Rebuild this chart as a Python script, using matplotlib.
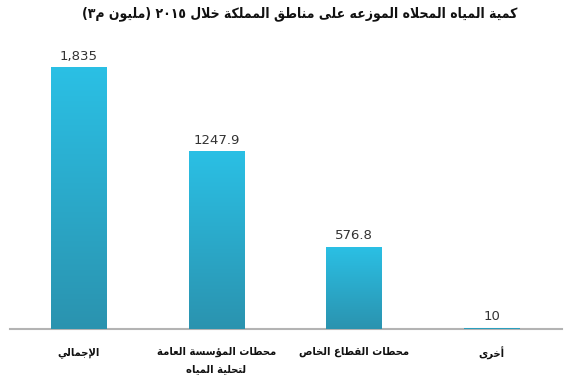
import matplotlib
matplotlib.use("Agg")
import matplotlib.pyplot as plt
import numpy as np
from matplotlib.colors import LinearSegmentedColormap

# ---------------- data ----------------
categories = ["الإجمالي", "محطات المؤسسة العامة\nلتحلية المياه", "محطات القطاع الخاص", "أخرى"]
values = [1835, 1247.9, 576.8, 10]
value_labels = ["1,835", "1247.9", "576.8", "10"]
title = "كمية المياه المحلاه الموزعه على مناطق المملكة خلال ٢٠١٥ (مليون م٣)"

# ---------------- minimal Arabic shaping (presentation forms + RTL) ----------------
FORMS = {  # iso, final, initial, medial
    'ا': ('\uFE8D', '\uFE8E', None, None), 'أ': ('\uFE83', '\uFE84', None, None),
    'إ': ('\uFE87', '\uFE88', None, None), 'آ': ('\uFE81', '\uFE82', None, None),
    'ؤ': ('\uFE85', '\uFE86', None, None), 'ة': ('\uFE93', '\uFE94', None, None),
    'د': ('\uFEA9', '\uFEAA', None, None), 'ذ': ('\uFEAB', '\uFEAC', None, None),
    'ر': ('\uFEAD', '\uFEAE', None, None), 'ز': ('\uFEAF', '\uFEB0', None, None),
    'و': ('\uFEED', '\uFEEE', None, None), 'ى': ('\uFEEF', '\uFEF0', None, None),
    'ب': ('\uFE8F', '\uFE90', '\uFE91', '\uFE92'), 'ت': ('\uFE95', '\uFE96', '\uFE97', '\uFE98'),
    'ث': ('\uFE99', '\uFE9A', '\uFE9B', '\uFE9C'), 'ج': ('\uFE9D', '\uFE9E', '\uFE9F', '\uFEA0'),
    'ح': ('\uFEA1', '\uFEA2', '\uFEA3', '\uFEA4'), 'خ': ('\uFEA5', '\uFEA6', '\uFEA7', '\uFEA8'),
    'س': ('\uFEB1', '\uFEB2', '\uFEB3', '\uFEB4'), 'ش': ('\uFEB5', '\uFEB6', '\uFEB7', '\uFEB8'),
    'ص': ('\uFEB9', '\uFEBA', '\uFEBB', '\uFEBC'), 'ض': ('\uFEBD', '\uFEBE', '\uFEBF', '\uFEC0'),
    'ط': ('\uFEC1', '\uFEC2', '\uFEC3', '\uFEC4'), 'ظ': ('\uFEC5', '\uFEC6', '\uFEC7', '\uFEC8'),
    'ع': ('\uFEC9', '\uFECA', '\uFECB', '\uFECC'), 'غ': ('\uFECD', '\uFECE', '\uFECF', '\uFED0'),
    'ف': ('\uFED1', '\uFED2', '\uFED3', '\uFED4'), 'ق': ('\uFED5', '\uFED6', '\uFED7', '\uFED8'),
    'ك': ('\uFED9', '\uFEDA', '\uFEDB', '\uFEDC'), 'ل': ('\uFEDD', '\uFEDE', '\uFEDF', '\uFEE0'),
    'م': ('\uFEE1', '\uFEE2', '\uFEE3', '\uFEE4'), 'ن': ('\uFEE5', '\uFEE6', '\uFEE7', '\uFEE8'),
    'ه': ('\uFEE9', '\uFEEA', '\uFEEB', '\uFEEC'), 'ي': ('\uFEF1', '\uFEF2', '\uFEF3', '\uFEF4'),
    'ئ': ('\uFE89', '\uFE8A', '\uFE8B', '\uFE8C'),
    # lam-alef ligatures (placeholders)
    'LA': ('\uFEFB', '\uFEFC', None, None), 'LAH': ('\uFEF7', '\uFEF8', None, None),
    'LAB': ('\uFEF9', '\uFEFA', None, None), 'LAM': ('\uFEF5', '\uFEF6', None, None),
}
LAMALEF = {'ا': 'LA', 'أ': 'LAH', 'إ': 'LAB', 'آ': 'LAM'}


def shape_line(s):
    toks = []
    i = 0
    while i < len(s):
        c = s[i]
        if c == 'ل' and i + 1 < len(s) and s[i + 1] in LAMALEF:
            toks.append(LAMALEF[s[i + 1]])
            i += 2
        else:
            toks.append(c)
            i += 1
    out = []
    for k, t in enumerate(toks):
        if t not in FORMS:
            out.append(t)
            continue
        iso, fin, ini, med = FORMS[t]
        prev = toks[k - 1] if k > 0 else None
        nxt = toks[k + 1] if k + 1 < len(toks) else None
        pj = prev in FORMS and FORMS[prev][2] is not None
        nj = nxt in FORMS and ini is not None
        if pj and nj:
            out.append(med)
        elif pj:
            out.append(fin)
        elif nj:
            out.append(ini)
        else:
            out.append(iso)
    # visual order: reverse, but keep digit runs LTR; mirror parentheses
    runs = []
    for ch in out:
        isdig = ch.isdigit() or ch in ',.'
        if runs and runs[-1][0] and isdig:
            runs[-1][1].append(ch)
        else:
            runs.append([isdig, [ch]])
    vis = []
    for isdig, chars in reversed(runs):
        if isdig:
            vis.extend(chars)
        else:
            for ch in reversed(chars):
                vis.append({'(': ')', ')': '('}.get(ch, ch))
    return ''.join(vis)


def ar(s):
    return '\n'.join(shape_line(l) for l in s.split('\n'))


# ---------------- figure ----------------
W, H = 570, 384
fig = plt.figure(figsize=(W / 100, H / 100), dpi=100)
ax = fig.add_axes([10 / W, (H - 329) / H, 552 / W, (329 - 40) / H])

x = np.arange(len(values))
bars = ax.bar(x, values, width=0.405, color='#2ab0d4', zorder=2)

cmap = LinearSegmentedColormap.from_list('g', ['#2a93af', '#2bc0e5'])
grad = np.linspace(0, 1, 256).reshape(-1, 1)
for b in bars:
    x0, y0 = b.get_x(), b.get_y()
    im = ax.imshow(grad, cmap=cmap, origin='lower', aspect='auto',
                   extent=(x0, x0 + b.get_width(), y0, y0 + b.get_height()), zorder=3)
    im.set_clip_path(b)
    b.set_facecolor('none')

ax.set_xlim(-0.5, 3.51)
ax.set_ylim(0, 289 / 0.1428)

for xi, v, lab in zip(x, values, value_labels):
    ax.annotate(lab, (xi, v), xytext=(0, 3), textcoords='offset points',
                ha='center', va='bottom', fontsize=9.5, color='#333333',
                family='DejaVu Sans', zorder=4)

for s in ['top', 'right', 'left']:
    ax.spines[s].set_visible(False)
ax.spines['bottom'].set_color('#b3b3b3')
ax.spines['bottom'].set_linewidth(1.5)
ax.set_yticks([])
ax.set_xticks(x)
ax.set_xticklabels([ar(c) for c in categories], fontsize=8, fontweight='bold',
                   family='DejaVu Sans', fontstretch='condensed',
                   color='#111111', linespacing=1.9, va='top')
ax.tick_params(axis='x', length=0, pad=13)

fig.text(300 / W, 1 - 14 / H, ar(title), ha='center', va='center', fontsize=10,
         fontweight='bold', family='DejaVu Sans', fontstretch='condensed',
         color='#111111')

fig.savefig('out.png', dpi=100, facecolor='white')
